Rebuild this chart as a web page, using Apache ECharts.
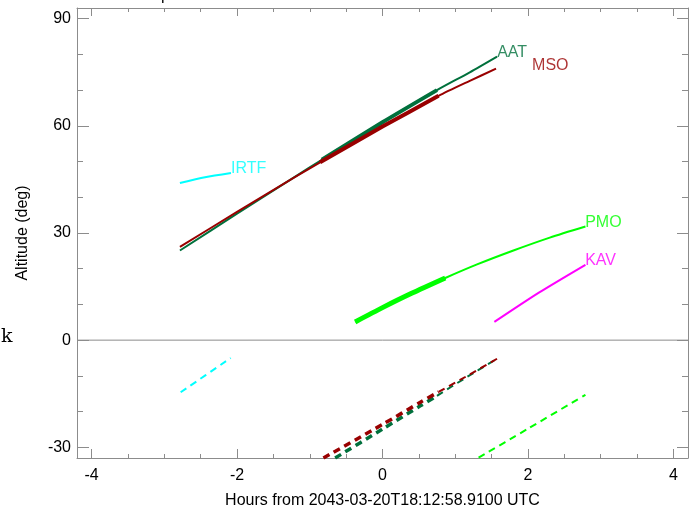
<!DOCTYPE html>
<html>
<head>
<meta charset="utf-8">
<script src="https://cdn.jsdelivr.net/npm/echarts@6.0.0/dist/echarts.min.js"></script>
<style>
html,body{margin:0;padding:0;background:#fff;}
#chart{width:697px;height:509px;}
</style>
</head>
<body>
<div id="chart"></div>
<script>
// ---- tick values ----
const xMajorTicks = [-4, -2, 0, 2, 4];
const xMinorTicks = [-4, -3.5, -3, -2.5, -2, -1.5, -1, -0.5, 0, 0.5, 1, 1.5, 2, 2.5, 3, 3.5, 4];
const yMajorTicks = [-30, 0, 30, 60, 90];
const yMinorTicks = [-30, -20, -10, 0, 10, 20, 30, 40, 50, 60, 70, 80, 90];

// ---- altitude curves [hours, deg] ----
const aatAlt   = [[-2.785,25.1],[-2.0,35.4],[-1.2,45.8],[-0.834,50.5],[0,61.0],[0.749,70.0],[1.2,75.0],[1.575,79.4]];
const aatNight = [[-0.834,50.5],[0,61.0],[0.749,70.0]];
const msoAlt   = [[-2.785,26.1],[-2.0,35.9],[-1.2,45.7],[-0.858,49.8],[0,59.8],[0.771,68.4],[1.2,72.6],[1.561,76.0]];
const msoNight = [[-0.858,49.8],[0,59.8],[0.771,68.4]];
const irtfAlt  = [[-2.785,44.0],[-2.44,45.6],[-2.083,46.8]];
const pmoAlt   = [[-0.376,5.1],[0,9.1],[0.4,13.1],[0.863,17.4],[1.3,21.2],[1.8,25.1],[2.3,28.7],[2.79,31.8]];
const pmoNight = [[-0.376,5.1],[0,9.1],[0.4,13.1],[0.863,17.4]];
const kavAlt   = [[1.538,5.1],[2.15,13.3],[2.79,21.1]];

// ---- dashed curves (below horizon) ----
const aatSunNight = [[-0.651,-33.0],[0,-24.9],[0.52,-18.4],[0.749,-15.6]];
const aatSun      = [[0.749,-15.6],[1.115,-10.9],[1.575,-5.2]];
const msoSunNight = [[-0.812,-33.0],[0,-23.6],[0.52,-17.4],[0.771,-14.5]];
const msoSun      = [[0.771,-14.5],[1.2,-9.6],[1.575,-5.2]];
const irtfSun     = [[-2.775,-14.6],[-2.087,-5.0]];
const pmoSun      = [[1.321,-32.9],[2.0,-24.8],[2.79,-15.3]];

// ---- labels ----
const labelNames   = ['AAT', 'MSO', 'IRTF', 'PMO', 'KAV'];
const labelAnchors = [[1.59,79.4],[2.07,75.7],[-2.07,46.8],[2.80,31.8],[2.80,21.1]];
const labelColors  = ['#00703c', '#990000', '#00ffff', '#00ff00', '#ff00ff'];

const zeroLine = [[-4.2,0],[4.2,0]];

const FONT = 'Liberation Sans';
const GRAY = '#8c8c8c';
const C_AAT = '#00703c', C_MSO = '#990000', C_IRTF = '#00ffff', C_PMO = '#00ff00', C_KAV = '#ff00ff';

function xAx(pos, ticks, len, showLine, showLabel) {
  return {
    type: 'value', min: -4.2, max: 4.2, position: pos,
    axisLine: {show: showLine, onZero: false, lineStyle: {color: GRAY, width: 1}},
    axisTick: {show: true, inside: true, length: len, customValues: ticks, lineStyle: {color: GRAY, width: 1}},
    axisLabel: {show: showLabel, customValues: ticks, color: '#000', fontSize: 16, fontFamily: FONT, margin: 10},
    splitLine: {show: false}
  };
}
function yAx(pos, ticks, len, showLine, showLabel) {
  return {
    type: 'value', min: -33, max: 93, position: pos,
    axisLine: {show: showLine, onZero: false, lineStyle: {color: GRAY, width: 1}},
    axisTick: {show: true, inside: true, length: len, customValues: ticks, lineStyle: {color: GRAY, width: 1}},
    axisLabel: {show: showLabel, customValues: ticks, color: '#000', fontSize: 16, fontFamily: FONT, margin: 6},
    splitLine: {show: false}
  };
}

const xMain = xAx('bottom', xMajorTicks, 9, true, true);
xMain.name = 'Hours from 2043-03-20T18:12:58.9100 UTC';
xMain.nameLocation = 'middle';
xMain.nameGap = 35;
xMain.nameTextStyle = {color: '#000', fontSize: 16, fontFamily: FONT};

const yMain = yAx('left', yMajorTicks, 12, true, true);
yMain.name = 'Altitude (deg)';
yMain.nameLocation = 'middle';
yMain.nameGap = 46;
yMain.nameRotate = 90;
yMain.nameTextStyle = {color: '#000', fontSize: 16, fontFamily: FONT};

function line(data, color, width, dashed, z) {
  return {
    type: 'line', data: data, xAxisIndex: 0, yAxisIndex: 0,
    showSymbol: false, symbol: 'none', smooth: 0.25, clip: true,
    lineStyle: {color: color, width: width, type: dashed ? [7, 5] : 'solid', cap: 'butt'},
    silent: true, z: z || 2
  };
}

const labelSeries = {
  type: 'scatter', xAxisIndex: 0, yAxisIndex: 0, symbolSize: 0, silent: true, z: 10,
  data: labelNames.map((n, i) => ({
    value: labelAnchors[i], name: n,
    label: {show: true, formatter: n, position: [-1, 4], align: 'left', verticalAlign: 'bottom',
            color: labelColors[i], fontSize: 16, fontFamily: FONT}
  }))
};

const option = {
  animation: false,
  backgroundColor: '#fff',
  grid: {left: 77, right: 9, top: 8, bottom: 51, containLabel: false, outerBoundsMode: 'none'},
  xAxis: [
    xMain,
    xAx('bottom', xMinorTicks, 4, false, false),
    xAx('top', xMajorTicks, 8, true, false),
    xAx('top', xMinorTicks, 4, false, false)
  ],
  yAxis: [
    yMain,
    yAx('left', yMinorTicks, 6, false, false),
    yAx('right', yMajorTicks, 11, true, false),
    yAx('right', yMinorTicks, 6, false, false)
  ],
  graphic: [
    {type: 'text', left: 1, top: 328, style: {text: 'k', font: '19px "DejaVu Serif"', fill: '#000'}},
    {type: 'text', left: 161, top: -12, style: {text: 'p', font: '16px "Liberation Sans"', fill: '#000'}}
  ],
  series: [
    {type: 'line', data: zeroLine, showSymbol: false, symbol: 'none', silent: true,
     lineStyle: {color: GRAY, width: 1}, z: 1},
    line(irtfAlt, C_IRTF, 2.2),
    line(irtfSun, C_IRTF, 2, true),
    line(aatAlt, C_AAT, 2),
    line(aatNight, C_AAT, 4),
    line(aatSunNight, C_AAT, 3.5, true),
    line(aatSun, C_AAT, 2, true),
    line(msoAlt, C_MSO, 2, false, 3),
    line(msoNight, C_MSO, 4, false, 3),
    line(msoSunNight, C_MSO, 3.5, true, 3),
    line(msoSun, C_MSO, 2, true, 3),
    line(pmoAlt, C_PMO, 2),
    line(pmoNight, C_PMO, 5),
    line(pmoSun, C_PMO, 2, true),
    line(kavAlt, C_KAV, 2),
    labelSeries
  ]
};

const chart = echarts.init(document.getElementById('chart'), null, {renderer: 'canvas'});
chart.setOption(option);
</script>
</body>
</html>
